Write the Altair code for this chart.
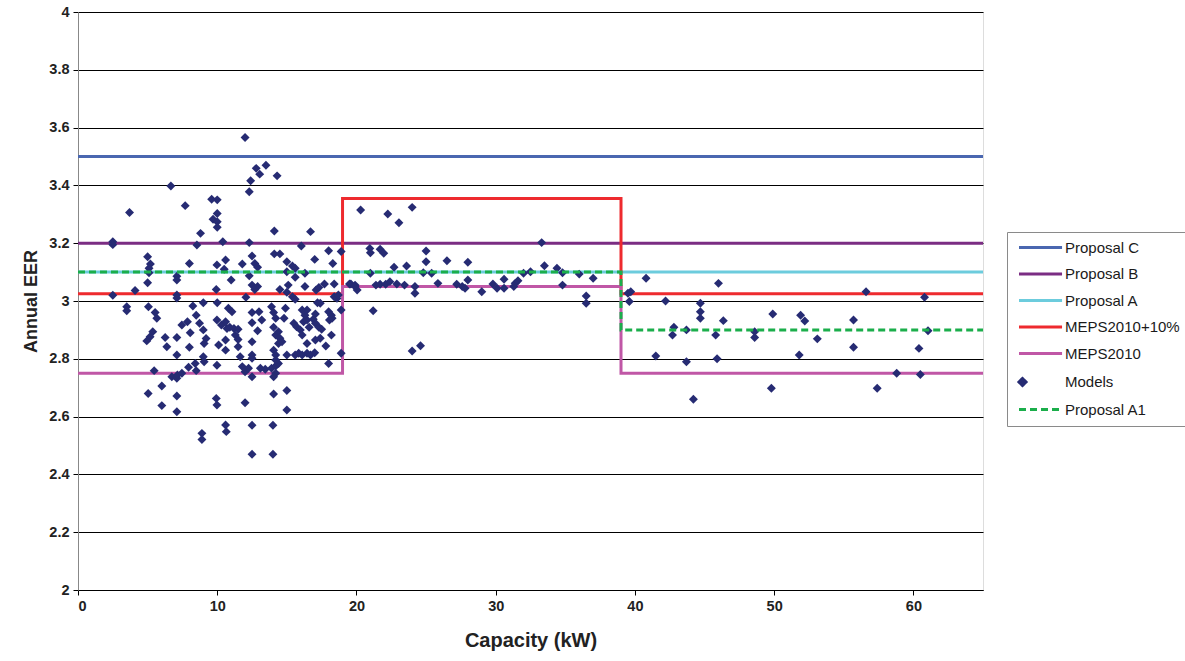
import altair as alt
import pandas as pd

# ---------------- data ----------------
series_names = ["Proposal C", "Proposal B", "Proposal A", "MEPS2010+10%",
                "MEPS2010", "Models", "Proposal A1"]
series_colors = ["#4A67B0", "#7B2D83", "#6CCCDD", "#EE2A2E",
                 "#C057A6", "#262B73", "#1BAE4B"]

prop_c_x = [0, 65]
prop_c_y = [3.5, 3.5]
prop_b_x = [0, 65]
prop_b_y = [3.2, 3.2]
prop_a_x = [0, 65]
prop_a_y = [3.1, 3.1]
meps10_x = [0, 19, 19, 39, 39, 65]
meps10_y = [3.025, 3.025, 3.355, 3.355, 3.025, 3.025]
meps_x = [0, 19, 19, 39, 39, 65]
meps_y = [2.75, 2.75, 3.05, 3.05, 2.75, 2.75]
a1_x = [0, 39, 39, 65]
a1_y = [3.1, 3.1, 2.9, 2.9]

model_x = [
    2.5, 2.5, 2.5, 3.7, 3.5, 3.5, 4.1, 5.0, 5.2, 5.1, 5.1, 5.0, 5.06, 5.54, 5.66,
    5.37, 5.18, 4.94, 6.26, 6.38, 5.47, 5.04, 6.02, 6.02, 6.67, 7.1, 7.1, 7.1, 7.1,
    7.1, 7.1, 7.1, 7.1, 6.74, 7.1, 7.14, 7.46, 7.46, 7.86, 8.06, 8.0, 8.0, 7.7,
    7.94, 8.42, 8.49, 8.25, 8.49, 8.73, 8.54, 8.8, 9.0, 9.0, 9.2, 9.06, 9.0, 9.06,
    8.9, 8.9, 9.6, 10.0, 10.0, 9.7, 10.0, 10.0, 10.4, 9.98, 10.6, 10.5, 9.93, 10.0,
    9.98, 10.3, 10.7, 10.1, 9.98, 9.93, 9.98, 10.6, 10.65, 11.0, 10.8, 11.06, 10.6,
    10.9, 11.2, 11.5, 11.3, 11.5, 10.6, 10.6, 11.5, 11.65, 11.8, 12.0, 12.25, 12.5,
    12.0, 12.5, 12.5, 12.0, 12.8, 13.05, 13.5, 14.3, 12.4, 12.3, 12.3, 12.5, 11.8,
    12.7, 12.9, 12.3, 12.5, 12.9, 12.7, 12.06, 12.5, 13.0, 13.2, 12.5, 12.9, 12.5,
    12.5, 12.5, 13.1, 13.45, 13.9, 14.2, 14.4, 14.2, 14.05, 14.05, 14.0, 14.0, 14.1,
    14.1, 14.5, 13.9, 14.05, 14.2, 14.8, 14.9, 14.05, 14.2, 14.4, 14.5, 14.4, 14.65,
    14.05, 14.2, 14.2, 15.0, 15.4, 15.6, 15.0, 15.6, 15.1, 14.5, 15.0, 15.4, 15.6,
    15.0, 15.0, 15.0, 15.5, 15.7, 15.97, 16.2, 16.45, 16.6, 16.1, 16.45, 15.6, 15.85,
    16.1, 16.45, 16.7, 16.04, 16.7, 17.0, 16.3, 16.3, 16.1, 16.45, 16.3, 17.05, 16.9,
    17.05, 17.3, 17.5, 17.05, 17.4, 17.8, 17.0, 17.1, 17.3, 17.7, 17.2, 17.4, 18.0,
    18.3, 18.4, 18.4, 18.6, 18.7, 18.0, 18.2, 18.06, 18.25, 18.2, 18.0, 18.9, 18.9,
    18.9, 19.5,
    20.3, 22.25, 23.05, 24.0, 20.96, 21.0, 21.7, 21.96, 25.0, 33.3, 25.0, 26.5, 28.0,
    22.7, 23.6, 33.5, 34.4, 34.8, 21.0, 24.8, 25.4, 32.0, 32.5, 36.0, 37.0, 28.0,
    30.6, 19.6, 19.9, 20.05, 19.9, 21.4, 21.7, 22.1, 22.4, 22.9, 23.45, 24.2, 24.2,
    25.85, 27.2, 27.6, 27.8, 29.0, 29.8, 30.1, 30.6, 31.3, 31.4, 31.6, 34.8, 36.5,
    36.5, 21.2, 24.0, 24.6,
    39.5, 39.7, 39.6, 40.8, 42.2, 41.5, 42.8, 42.7, 43.7, 43.7, 44.2, 44.7, 44.7,
    44.7, 45.8, 45.9, 46.0, 46.35, 48.6, 48.6, 49.8, 49.9, 51.8, 51.9, 52.2, 53.1,
    55.7, 55.7, 56.6, 57.4, 58.8, 60.4, 60.5, 60.8, 61.05,
]
model_y = [
    3.205, 3.195, 3.02, 3.306, 2.98, 2.966, 3.036, 3.153, 3.128, 3.113, 3.098, 3.063,
    2.98, 2.96, 2.94, 2.894, 2.876, 2.862, 2.874, 2.842, 2.759, 2.68, 2.706, 2.638,
    3.398, 3.086, 3.073, 3.021, 3.01, 2.874, 2.813, 2.671, 2.617, 2.738, 2.733, 2.744,
    2.75, 2.917, 2.928, 2.89, 3.13, 2.84, 3.33, 2.771, 2.784, 2.759, 2.983, 2.951,
    2.923, 3.194, 3.234, 2.994, 2.9, 2.87, 2.853, 2.807, 2.79, 2.542, 2.521, 3.352,
    3.35, 3.303, 3.283, 3.274, 3.255, 3.205, 3.125, 3.142, 3.11, 3.04, 2.994, 2.934,
    2.917, 2.905, 2.848, 2.778, 2.663, 2.64, 2.571, 2.548, 3.073, 2.975, 2.963, 2.928,
    2.909, 2.905, 2.902, 2.882, 2.867, 2.865, 2.83, 2.842, 2.807, 2.773, 2.755, 2.767,
    2.738, 2.648, 2.57, 2.47, 3.566, 3.459, 3.439, 3.47, 3.433, 3.416, 3.378, 3.202,
    3.156, 3.128, 3.13, 3.117, 3.087, 3.055, 3.05, 3.04, 3.013, 2.96, 2.963, 2.934,
    2.925, 2.897, 2.859, 2.813, 2.802, 2.767, 2.764, 2.767, 2.775, 2.784, 2.75, 2.738,
    2.678, 2.57, 2.47, 3.242, 3.163, 3.163, 2.98, 2.96, 2.94, 2.94, 2.975, 2.909,
    2.882, 2.894, 2.871, 2.853, 2.859, 2.83, 2.813, 2.796, 3.136, 3.121, 3.113, 3.101,
    3.082, 3.055, 3.04, 3.03, 3.015, 3.006, 2.813, 2.69, 2.623, 2.923, 2.911, 2.9,
    2.928, 2.934, 2.909, 2.882, 2.853, 2.813, 2.819, 2.813, 2.819, 2.813, 3.19, 3.24,
    3.144, 3.096, 3.05, 2.969, 2.969, 2.951, 2.955, 2.937, 2.923, 2.909, 2.902, 2.865,
    2.871, 2.844, 2.821, 3.038, 3.047, 3.059, 2.994, 2.992, 3.174, 3.13, 3.059, 3.015,
    3.009, 3.021, 2.963, 2.951, 2.934, 2.94, 2.882, 2.784, 3.171, 2.969, 2.819, 3.059,
    3.315, 3.301, 3.271, 3.324, 3.182, 3.167, 3.179, 3.165, 3.173, 3.202, 3.136, 3.139,
    3.134, 3.117, 3.121, 3.122, 3.113, 3.098, 3.096, 3.098, 3.096, 3.096, 3.101, 3.093,
    3.079, 3.073, 3.075, 3.059, 3.055, 3.038, 3.05, 3.055, 3.058, 3.058, 3.067, 3.059,
    3.055, 3.05, 3.027, 3.061, 3.058, 3.05, 3.044, 3.032, 3.059, 3.044, 3.044, 3.05,
    3.061, 3.07, 3.055, 3.017, 2.992, 2.966, 2.827, 2.845,
    3.027, 3.032, 2.998, 3.079, 3.0, 2.81, 2.909, 2.882, 2.9, 2.79, 2.66, 2.992, 2.963,
    2.94, 2.882, 2.8, 3.061, 2.932, 2.894, 2.874, 2.698, 2.955, 2.813, 2.951, 2.931,
    2.869, 2.934, 2.84, 3.032, 2.698, 2.75, 2.836, 2.746, 3.013, 2.897,
]

x_ticks = [0, 10, 20, 30, 40, 50, 60]
y_ticks = [2, 2.2, 2.4, 2.6, 2.8, 3, 3.2, 3.4, 3.6, 3.8, 4]

# ---------------- tables ----------------
def build(specs):
    rows = []
    for name, xs, ys in specs:
        for i, (xv, yv) in enumerate(zip(xs, ys)):
            rows.append({"series": name, "x": xv, "y": yv, "ord": i})
    return pd.DataFrame(rows)

solid_df = build([
    ("Proposal C", prop_c_x, prop_c_y),
    ("Proposal B", prop_b_x, prop_b_y),
    ("Proposal A", prop_a_x, prop_a_y),
    ("MEPS2010+10%", meps10_x, meps10_y),
    ("MEPS2010", meps_x, meps_y),
])
dash_df = build([("Proposal A1", a1_x, a1_y)])
pts_df = pd.DataFrame({"x": model_x, "y": model_y, "series": "Models"})

FONT = "Liberation Sans"

# legend glyphs: a long horizontal stroke for line series, a diamond for models
LINE_GLYPH = "M-1,0H11.3"
shape_range = [LINE_GLYPH, LINE_GLYPH, LINE_GLYPH, LINE_GLYPH, LINE_GLYPH,
               "diamond", LINE_GLYPH]
dash_range = [[1, 0], [1, 0], [1, 0], [1, 0], [1, 0], [1, 0], [7, 4]]

leg = alt.Legend(
    title=None,
    orient="none",
    legendX=929,
    legendY=220,
    symbolSize=49,
    symbolStrokeWidth=3,
    labelFont=FONT,
    labelFontSize=15,
    labelColor="#1a1a1a",
    labelOffset=35,
    rowPadding=10.5,
    padding=8,
    strokeColor="#8a8a8a",
    fillColor="white",
    symbolOpacity=1,
)

color = alt.Color(
    "series:N",
    scale=alt.Scale(domain=series_names, range=series_colors),
    sort=series_names,
    legend=leg,
)
shape = alt.Shape(
    "series:N",
    scale=alt.Scale(domain=series_names, range=shape_range),
    sort=series_names,
    legend=leg,
)
dash = alt.StrokeDash(
    "series:N",
    scale=alt.Scale(domain=series_names, range=dash_range),
    sort=series_names,
    legend=leg,
)

x_enc = alt.X(
    "x:Q",
    scale=alt.Scale(domain=[0, 65], nice=False, zero=False),
    axis=alt.Axis(
        values=x_ticks, title="Capacity (kW)", grid=False,
        labelFont=FONT, labelFontSize=14.5, labelFontWeight="bold", labelColor="#222",
        titleFont=FONT, titleFontSize=20, titleFontWeight="bold", titleColor="#222",
        tickSize=5, tickColor="#000", domainColor="#000", labelPadding=4,
        titlePadding=18,
    ),
)
y_enc = alt.Y(
    "y:Q",
    scale=alt.Scale(domain=[2, 4], nice=False, zero=False),
    axis=alt.Axis(
        values=y_ticks, format="~g", title="Annual EER", grid=True,
        gridColor="#000", gridWidth=1, gridOpacity=1,
        labelFont=FONT, labelFontSize=14.5, labelFontWeight="bold", labelColor="#222",
        titleFont=FONT, titleFontSize=18, titleFontWeight="bold", titleColor="#222",
        tickSize=5, tickColor="#000", domainColor="#888", labelPadding=4,
        titlePadding=8,
    ),
)

solid = alt.Chart(solid_df).mark_line(strokeWidth=3).encode(
    x=x_enc, y=y_enc, color=color, strokeDash=dash, order="ord:Q",
    detail="series:N",
)
points = alt.Chart(pts_df).mark_point(filled=True, opacity=1, size=80).encode(
    x=x_enc, y=y_enc, color=color, shape=shape
)
dashed = alt.Chart(dash_df).mark_line(strokeWidth=3).encode(
    x=x_enc, y=y_enc, color=color, strokeDash=dash, order="ord:Q"
)

chart = alt.layer(solid, points, dashed).properties(
    width=905,
    height=578,
    autosize=alt.AutoSizeParams(type="none"),
    padding={"left": 78, "top": 12, "right": 202, "bottom": 71},
).configure_view(stroke="#9a9a9a", strokeWidth=1).configure(background="white")

chart.save("out.html", embed_options={"renderer": "svg", "actions": False})
